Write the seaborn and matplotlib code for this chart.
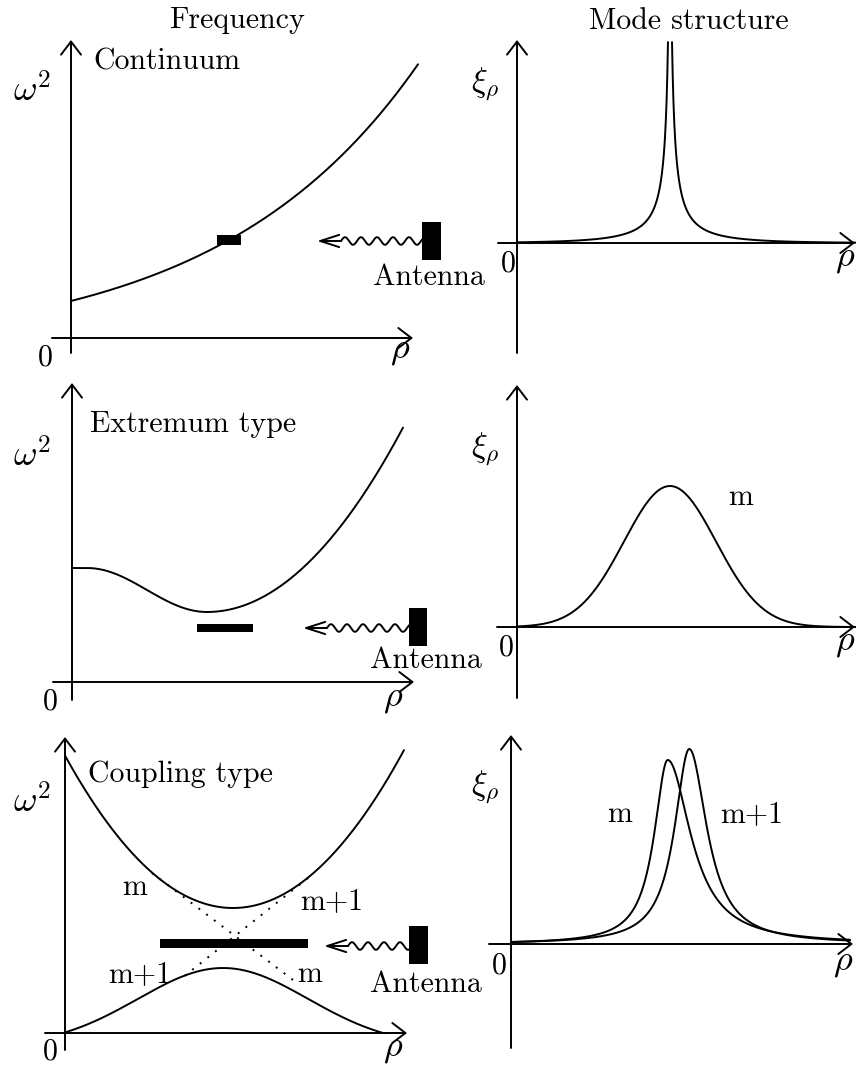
import numpy as np
import matplotlib
matplotlib.use("Agg")
import matplotlib.pyplot as plt
from matplotlib.patches import Rectangle
import seaborn as sns

# ---------------------------------------------------------------------------
# Schematic values (plot units: rho to the right, omega^2 / xi up)
# ---------------------------------------------------------------------------
# Continuum branch: omega^2 = w0 + a*(exp(rho/L) - 1)
continuum_coef = [37.0, 50.7, 200.0]
continuum_span = [0.0, 347.0]
continuum_band = [146.0, 170.0]
continuum_band_level = 98.0

# Extremum branch: plateau, cosine dip to a minimum, parabolic rise
extremum_min = [135.0, 70.0]          # rho, omega^2 at the minimum
extremum_plateau = 114.0
extremum_dip_width = 120.0
extremum_curvature = 0.0048
extremum_span = [0.0, 331.0]
extremum_band = [125.0, 181.0]
extremum_band_level = 54.0

# Coupling branches
coupling_upper = [168.0, 125.0, 0.0054]       # vertex rho, vertex omega^2, curvature
coupling_upper_span = [0.0, 339.0]
coupling_lower = [158.0, 65.0, 85.0, 160.0]   # centre, height, width, foot
coupling_lower_span = [0.0, 322.0]
branch_m_rho = [87.0, 232.0]
branch_m_w2 = [160.0, 50.0]
branch_m1_rho = [243.0, 117.0]
branch_m1_w2 = [155.0, 55.0]
coupling_band = [95.0, 243.0]
coupling_band_level = 89.5

# Mode structures
singular_mode = [153.0, 745.0, 1.6, 80.0, 201.0]   # centre, amplitude, core, decay, cut-off
global_mode = [153.0, 141.0, 46.0]                 # centre, height, width
coupled_m = [156.7, 184.0, 16.5, 28.0]             # centre, height, left / right half-width
coupled_m1 = [178.3, 195.0, 18.0, 21.5]
mode_span = [0.0, 339.0]

# ---------------------------------------------------------------------------
sns.set_theme(style="white")
plt.rcParams["font.family"] = ["cmr10", "DejaVu Serif"]
plt.rcParams["mathtext.fontset"] = "cm"
plt.rcParams["axes.unicode_minus"] = False

W, H = 856, 1070
fig = plt.figure(figsize=(W / 100, H / 100), dpi=100)
fig.patch.set_facecolor("white")

LW = 1.4
TXT = 21.5
panels = {}


def make_panel(name, box, origin):
    x0, y0, x1, y1 = box
    ox, oy = origin
    ax = fig.add_axes([x0 / W, 1 - y1 / H, (x1 - x0) / W, (y1 - y0) / H])
    ax.set_xlim(x0 - ox, x1 - ox)
    ax.set_ylim(oy - y1, oy - y0)
    ax.set_axis_off()
    ax.patch.set_alpha(0)
    panels[name] = (ax, ox, oy)
    return ax


def put(name, x, y, s, size=TXT, ha="left"):
    ax, ox, oy = panels[name]
    ax.text(x - ox, oy - y, s, fontsize=size, ha=ha, va="baseline", color="black")


def axes_arrows(name, xr, yr):
    ax, ox, oy = panels[name]
    kw = dict(arrowstyle="->,head_length=9.4,head_width=7.2", lw=LW, color="black",
              shrinkA=0, shrinkB=0, mutation_scale=1)
    ax.annotate("", xy=(xr[1] - ox, 0), xytext=(xr[0] - ox, 0), arrowprops=kw,
                annotation_clip=False)
    ax.annotate("", xy=(0, oy - yr[1]), xytext=(0, oy - yr[0]), arrowprops=kw,
                annotation_clip=False)


def curve(ax, x, y, **kw):
    sns.lineplot(x=np.asarray(x), y=np.asarray(y), ax=ax, color="black", linewidth=LW,
                 sort=False, estimator=None, legend=False, clip_on=False, **kw)


def band(ax, span, level, thick):
    ax.add_patch(Rectangle((span[0], level - thick / 2), span[1] - span[0], thick,
                           facecolor="black", edgecolor="none", clip_on=False))


def antenna(name, tip, block, label_xy):
    ax, ox, oy = panels[name]
    ut, vt = tip[0] - ox, oy - tip[1]
    bu0, bu1 = block[0] - ox, block[1] - ox
    bv0, bv1 = oy - block[3], oy - block[2]
    straight = 24
    ax.annotate("", xy=(ut, vt), xytext=(ut + straight, vt),
                arrowprops=dict(arrowstyle="->,head_length=13.7,head_width=4.4", lw=LW,
                                color="black", shrinkA=0, shrinkB=0, mutation_scale=1),
                annotation_clip=False)
    uw = np.linspace(ut + straight, bu0, 400)
    vw = vt + 3.8 * np.sin(2 * np.pi * (uw - (ut + straight)) / 16.0)
    ax.plot(uw, vw, color="black", lw=LW, clip_on=False)
    ax.add_patch(Rectangle((bu0, bv0), bu1 - bu0, bv1 - bv0, facecolor="black",
                           edgecolor="none", clip_on=False))
    put(name, label_xy[0], label_xy[1], "Antenna")


# ---------------------------------------------------------------------------
# Panels
# ---------------------------------------------------------------------------
ax1 = make_panel("cont", (0, 0, 490, 370), (71, 338))
ax2 = make_panel("cont_mode", (490, 0, 856, 370), (517, 243))
ax3 = make_panel("ext", (0, 370, 490, 720), (72, 682))
ax4 = make_panel("ext_mode", (490, 370, 856, 720), (517, 627))
ax5 = make_panel("coup", (0, 720, 490, 1070), (65, 1033))
ax6 = make_panel("coup_mode", (490, 720, 856, 1070), (511, 944))

axes_arrows("cont", (52, 413), (353, 40))
axes_arrows("cont_mode", (498, 855), (353, 40))
axes_arrows("ext", (53, 414), (700, 383))
axes_arrows("ext_mode", (497, 855), (698, 385))
axes_arrows("coup", (45, 407), (1050, 737))
axes_arrows("coup_mode", (489, 853), (1048, 735))

# --- Continuum ---
r = np.linspace(*continuum_span, 400)
w0, amp, scale = continuum_coef
curve(ax1, r, w0 + amp * (np.exp(r / scale) - 1))
band(ax1, continuum_band, continuum_band_level, 10)
antenna("cont", (317, 241), (422, 441, 222, 260), (373, 285))

c, A, d0, lam, cut = singular_mode
dx = np.geomspace(0.05, 200, 6000)
xi = A / (dx + d0) * np.exp(-dx / lam)
keep = xi <= cut
dl = dx[keep & (dx <= c - mode_span[0])]
dr = dx[keep & (dx <= mode_span[1] - c)]
curve(ax2, c - dl, A / (dl + d0) * np.exp(-dl / lam))
curve(ax2, c + dr, A / (dr + d0) * np.exp(-dr / lam))

# --- Extremum ---
r = np.linspace(*extremum_span, 500)
rm, wm = extremum_min
s = np.clip((rm - r) / extremum_dip_width, 0, 1)
left = wm + (extremum_plateau - wm) * (1 - np.cos(np.pi * s)) / 2
right = wm + extremum_curvature * (r - rm) ** 2
curve(ax3, r, np.where(r < rm, left, right))
band(ax3, extremum_band, extremum_band_level, 8)
antenna("ext", (303, 628), (409, 427, 608, 646), (370, 668))

r = np.linspace(*mode_span, 500)
gc, gh, gw = global_mode
curve(ax4, r, gh * np.exp(-(r - gc) ** 2 / (2 * gw ** 2)))

# --- Coupling ---
r = np.linspace(*coupling_upper_span, 400)
vr, vw2, k = coupling_upper
curve(ax5, r, vw2 + k * (r - vr) ** 2)
r = np.linspace(*coupling_lower_span, 400)
lc, lh, lw_, lf = coupling_lower
g = np.exp(-(r - lc) ** 2 / (2 * lw_ ** 2))
g0 = np.exp(-lf ** 2 / (2 * lw_ ** 2))
curve(ax5, r, np.maximum(lh * (g - g0) / (1 - g0), 0))
dots = (0, (1, 4))
curve(ax5, branch_m_rho, branch_m_w2, linestyle=dots)
curve(ax5, branch_m1_rho, branch_m1_w2, linestyle=dots)
band(ax5, coupling_band, coupling_band_level, 9)
antenna("coup", (324, 946), (409, 428, 926, 964), (370, 992))


def lorentz_asym(x, p):
    c0, h0, wl, wr = p
    w = np.where(x < c0, wl, wr)
    return h0 / (1 + ((x - c0) / w) ** 2)


r = np.linspace(*mode_span, 1500)
curve(ax6, r, lorentz_asym(r, coupled_m))
curve(ax6, r, lorentz_asym(r, coupled_m1))

# ---------------------------------------------------------------------------
# Labels
# ---------------------------------------------------------------------------
put("cont", 237, 28, "Frequency", ha="center")
put("cont_mode", 689, 29, "Mode structure", ha="center")

put("cont", 93, 69, "Continuum")
put("ext", 90, 432, "Extremum type")
put("coup", 88, 782, "Coupling type")

for name, y in (("cont", 102), ("ext", 467), ("coup", 813)):
    put(name, 13, y, r"$\omega^2$", size=26)
for name, y in (("cont_mode", 91), ("ext_mode", 456), ("coup_mode", 794)):
    put(name, 471, y, r"$\xi_\rho$", size=24)

for name, x, y in (("cont", 45, 366), ("cont_mode", 508, 272), ("ext", 50, 710),
                   ("ext_mode", 506, 656), ("coup", 50, 1060), ("coup_mode", 499, 974)):
    put(name, x, y, "0", ha="center")
for name, x, y in (("cont", 400, 358), ("cont_mode", 845, 266), ("ext", 393, 706),
                   ("ext_mode", 845, 650), ("coup", 393, 1056), ("coup_mode", 843, 970)):
    put(name, x, y, r"$\rho$", size=26, ha="center")

put("ext_mode", 741, 505, "m", ha="center")
put("coup", 135, 895, "m", ha="center")
put("coup", 332, 909, "m+1", ha="center")
put("coup", 140, 982, "m+1", ha="center")
put("coup", 310, 982, "m", ha="center")
put("coup_mode", 620, 822, "m", ha="center")
put("coup_mode", 752, 822, "m+1", ha="center")

fig.savefig("out.png", dpi=100, facecolor="white")
